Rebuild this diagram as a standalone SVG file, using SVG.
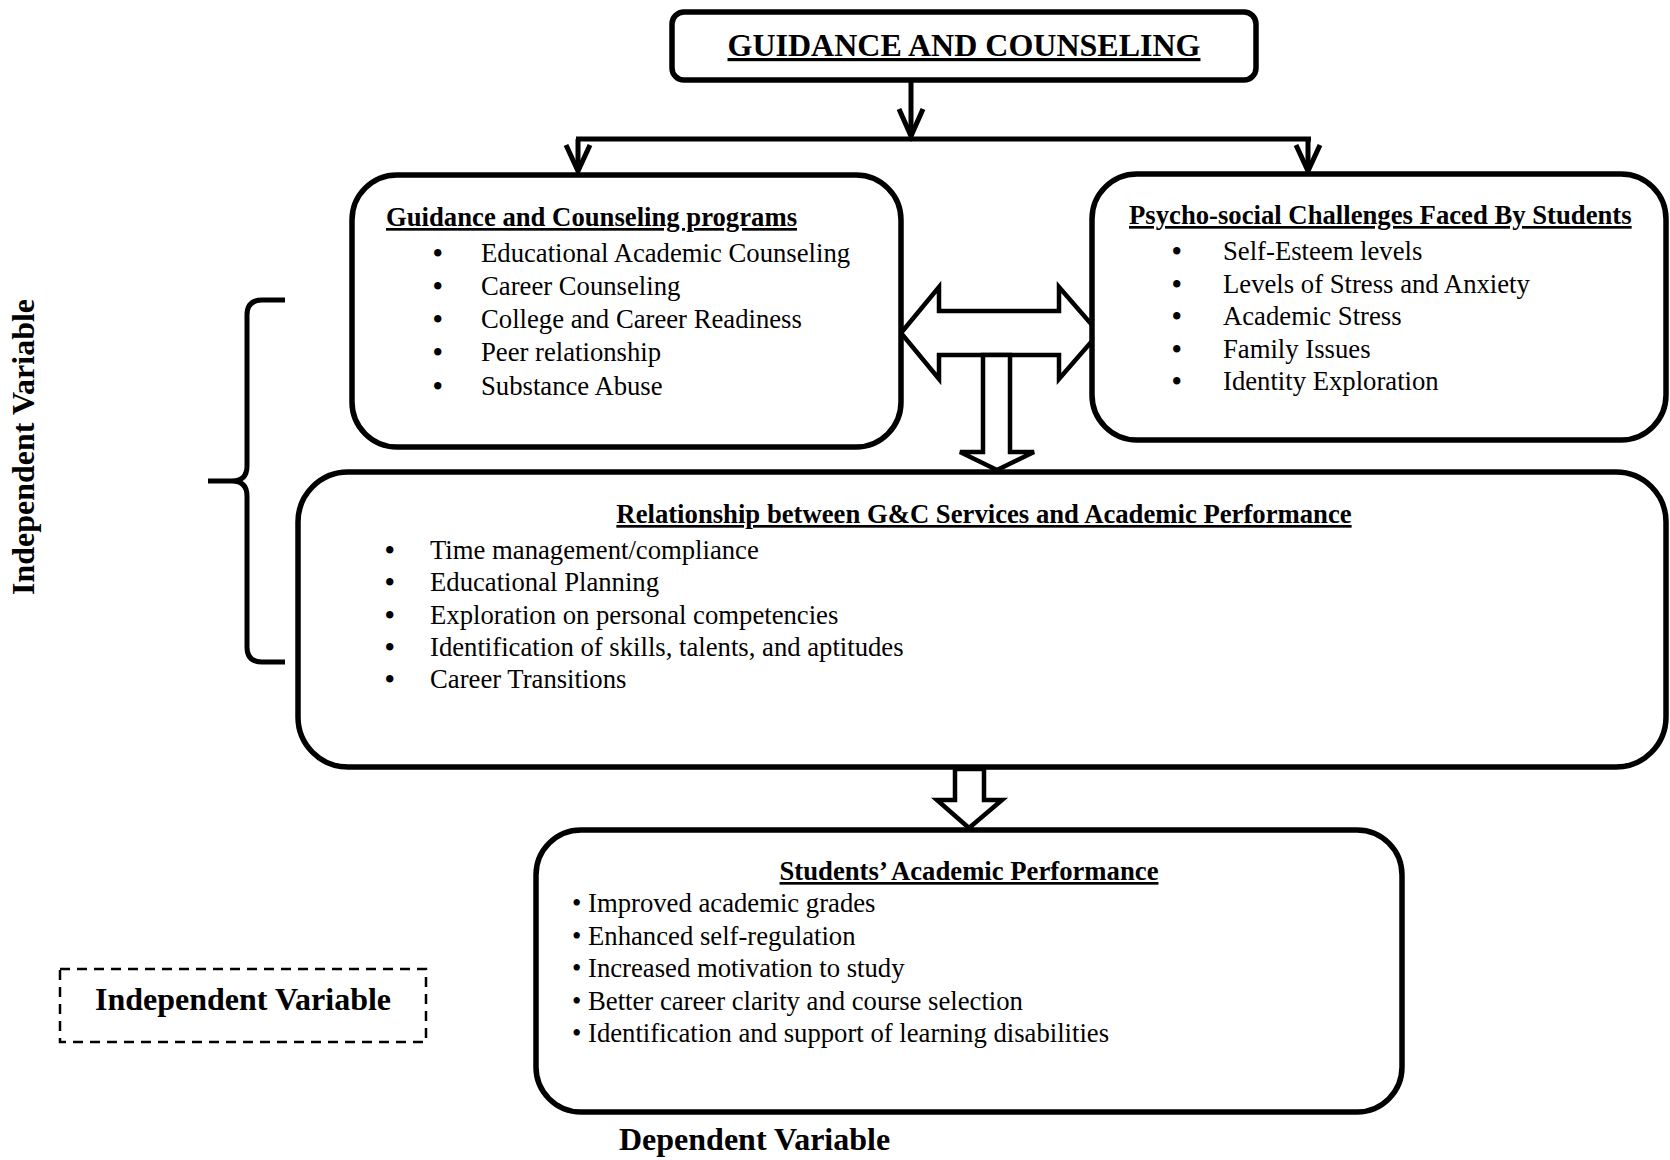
<svg xmlns="http://www.w3.org/2000/svg" width="1670" height="1160" viewBox="0 0 1670 1160">
<defs>
<style>
.box{fill:#fff;stroke:#000;stroke-width:5.5}
.ln{fill:none;stroke:#000;stroke-width:5}
.hol{fill:#fff;stroke:#000;stroke-width:4.5;stroke-linejoin:miter}
.t{font-family:"Liberation Serif","Times New Roman",serif;fill:#000}
.b{font-weight:bold}
.h{font-weight:bold;text-decoration:underline}
.body{font-size:26.7px}
.bul{font-size:27px;font-weight:bold}
</style>
</defs>
<rect width="1670" height="1160" fill="#fff"/>

<g id="connectors">
<line class="ln" x1="911" y1="81" x2="911" y2="136"/>
<polyline class="ln" points="899,109 911,136 923,109"/>
<line class="ln" x1="576" y1="139" x2="1311" y2="139"/>
<line class="ln" x1="578" y1="139" x2="578" y2="170"/>
<polyline class="ln" points="566,145 578,171 590,145"/>
<line class="ln" x1="1308" y1="139" x2="1308" y2="170"/>
<polyline class="ln" points="1296,145 1308,171 1320,145"/>
<polygon class="hol" points="901,333 939,287 939,311 1059,311 1059,287 1099,333 1059,379 1059,355 939,355 939,379"/>
<polygon class="hol" points="983,355 1010,355 1010,452 1034,452 997,470 960,452 983,452"/>
<polygon class="hol" points="955,769 984,769 984,800 1002,800 969,828 937,800 955,800"/>
<path class="ln" d="M285,300 H262 Q247,300 247,315 V466 Q247,481 232,481 H208 M232,481 Q247,481 247,496 V647 Q247,662 262,662 H285"/>
</g>

<g id="node-top">
<rect class="box" x="672" y="12" width="584" height="68" rx="12"/>
<text class="t h" x="964" y="56" font-size="32" text-anchor="middle">GUIDANCE AND COUNSELING</text>
</g>

<g id="node-programs">
<rect class="box" x="352" y="175" width="549" height="272" rx="45"/>
<text class="t h body" x="386" y="226">Guidance and Counseling programs</text>
<g class="t body">
<text class="bul" x="433" y="262">•</text><text x="481" y="262">Educational Academic Counseling</text>
<text class="bul" x="433" y="295">•</text><text x="481" y="295">Career Counseling</text>
<text class="bul" x="433" y="328">•</text><text x="481" y="328">College and Career Readiness</text>
<text class="bul" x="433" y="361">•</text><text x="481" y="361">Peer relationship</text>
<text class="bul" x="433" y="395">•</text><text x="481" y="395">Substance Abuse</text>
</g>
</g>

<g id="node-psychosocial">
<rect class="box" x="1092" y="174" width="574" height="266" rx="45"/>
<text class="t h body" x="1129" y="224">Psycho-social Challenges Faced By Students</text>
<g class="t body">
<text class="bul" x="1172" y="260">•</text><text x="1223" y="260">Self-Esteem levels</text>
<text class="bul" x="1172" y="293">•</text><text x="1223" y="293"> Levels of Stress and Anxiety</text>
<text class="bul" x="1172" y="325">•</text><text x="1223" y="325">Academic Stress</text>
<text class="bul" x="1172" y="358">•</text><text x="1223" y="358">Family Issues</text>
<text class="bul" x="1172" y="390">•</text><text x="1223" y="390">Identity Exploration</text>
</g>
</g>

<g id="node-relationship">
<rect class="box" x="298" y="472" width="1368" height="295" rx="50"/>
<text class="t h body" x="984" y="523" text-anchor="middle">Relationship between G&amp;C Services and Academic Performance</text>
<g class="t body">
<text class="bul" x="385" y="559">•</text><text x="430" y="559">Time management/compliance</text>
<text class="bul" x="385" y="591">•</text><text x="430" y="591">Educational Planning</text>
<text class="bul" x="385" y="624">•</text><text x="430" y="624">Exploration on personal competencies</text>
<text class="bul" x="385" y="656">•</text><text x="430" y="656">Identification of skills, talents, and aptitudes</text>
<text class="bul" x="385" y="688">•</text><text x="430" y="688">Career Transitions</text>
</g>
</g>

<g id="node-performance">
<rect class="box" x="536" y="830" width="866" height="282" rx="45"/>
<text class="t h body" x="969" y="880" text-anchor="middle">Students’ Academic Performance</text>
<g class="t body">
<text x="572" y="912">• Improved academic grades</text>
<text x="572" y="945">• Enhanced self-regulation</text>
<text x="572" y="977">• Increased motivation to study</text>
<text x="572" y="1010">• Better career clarity and course selection</text>
<text x="572" y="1042">• Identification and support of learning disabilities</text>
</g>
</g>

<g id="label-independent-vertical">
<text class="t b" font-size="32" text-anchor="middle" transform="translate(34,447) rotate(-90)">Independent Variable</text>
</g>

<g id="legend-independent">
<rect x="60" y="969" width="366" height="73" fill="none" stroke="#000" stroke-width="2.5" stroke-dasharray="10,7"/>
<text class="t b" font-size="32" x="243" y="1010" text-anchor="middle">Independent Variable</text>
</g>

<g id="label-dependent">
<text class="t b" font-size="32" x="619" y="1150">Dependent Variable</text>
</g>
</svg>
